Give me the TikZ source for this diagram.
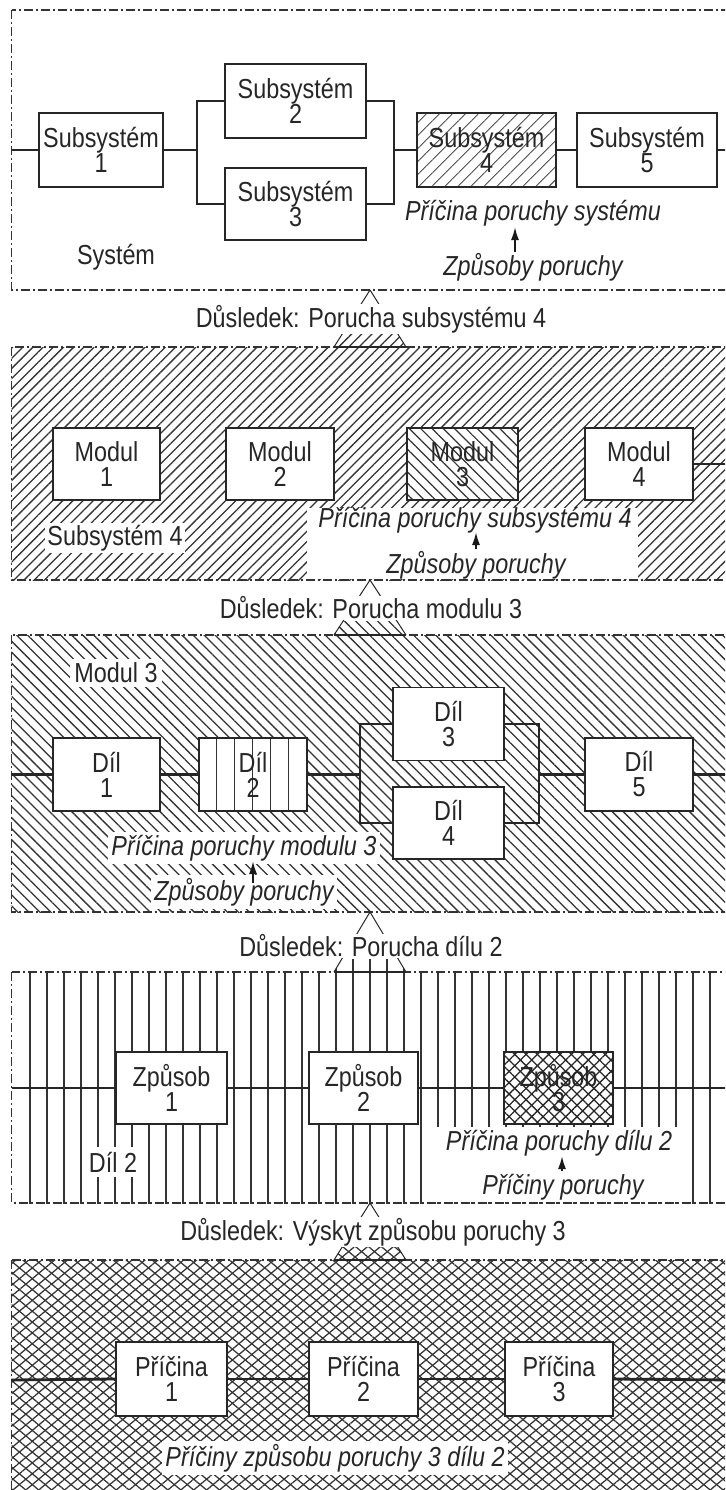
\documentclass[tikz,border=0pt]{standalone}
\usepackage{fontspec}
\setmainfont{Liberation Sans}[FakeStretch=0.85]
\usetikzlibrary{patterns,patterns.meta,arrows.meta,calc}
\newcommand\fs{\fontsize{27.5}{25}\selectfont}
\begin{document}
\begin{tikzpicture}[x=1pt,y=-1pt,
  box/.style={draw=black!85, line width=1.7pt, fill=white, align=center, inner sep=0pt, font=\fs, text=black!85},
  wire/.style={draw=black!85, line width=1.5pt},
  thickwire/.style={draw=black!85, line width=2.8pt},
  thinwire/.style={draw=black!85, line width=1.2pt},
  frame/.style={draw=black!80, line width=1.1pt, dash pattern=on 9pt off 3pt on 2pt off 3pt},
  txt/.style={font=\fs, text=black!85, inner sep=1pt},
  itxt/.style={font=\fs\itshape, text=black!85, inner sep=1pt},
  arr/.style={draw=black!90, -{Latex[length=13pt,width=8pt]}, line width=1.8pt},
  cone/.style={draw=black!85, line width=1pt},
  base/.style={draw=black!85, line width=1.8pt},
  vline/.style={draw=black!80, line width=1.2pt},
  hNE/.style={pattern={Lines[angle=45,distance=7.2pt,line width=1.3pt]}, pattern color=black!80},
  hNW/.style={pattern={Lines[angle=-45,distance=7.8pt,line width=1.3pt]}, pattern color=black!80},
  hX/.style={pattern={Lines[angle=40,distance=8.3pt,line width=1.25pt]}, pattern color=black!80,
     postaction={pattern={Lines[angle=-40,distance=8.3pt,line width=1.25pt]}, pattern color=black!80}},
  bNE/.style={preaction={fill=white}, pattern={Lines[angle=45,distance=9.2pt,line width=0.9pt]}, pattern color=black!70},
  bNW/.style={preaction={fill=white}, pattern={Lines[angle=-45,distance=8pt,line width=1.2pt]}, pattern color=black!80},
  bV/.style={preaction={fill=white}, pattern={Lines[angle=90,distance=18pt,line width=1pt]}, pattern color=black!80},
  bX/.style={preaction={fill=white}, pattern={Lines[angle=45,distance=8pt,line width=1.3pt]}, pattern color=black!85,
     postaction={pattern={Lines[angle=-45,distance=8pt,line width=1.3pt]}, pattern color=black!85}},
]
\useasboundingbox (0,0) rectangle (725,1490);
\clip (0,0) rectangle (725,1490);
\fill[white] (0,0) rectangle (725,1490);

% ================= Panel 1: System =================
\draw[frame] (11.5,10) rectangle (745,290);
\node[box, minimum width=124pt, minimum height=74pt] (s1) at (101,150) {Subsystém\\1};
\node[box, minimum width=141pt, minimum height=74pt] (s2) at (295.5,101) {Subsystém\\2};
\node[box, minimum width=141pt, minimum height=72pt] (s3) at (295.5,204) {Subsystém\\3};
\node[box, bNE, minimum width=139pt, minimum height=74pt] (s4) at (486.5,150) {Subsystém\\4};
\node[box, minimum width=140pt, minimum height=74pt] (s5) at (647,150) {Subsystém\\5};
\coordinate (w1) at (11.5,150);
\coordinate (e1) at (735,150);
\coordinate (bl1) at (197,150);
\coordinate (br1) at (394,150);
\draw[wire] (w1) -- (s1.west);
\draw[wire] (s1.east) -- (bl1);
\draw[wire] (s2.west) -- (bl1 |- s2.west) -- (bl1 |- s3.west) -- (s3.west);
\draw[wire] (s2.east) -- (br1 |- s2.east) -- (br1 |- s3.east) -- (s3.east);
\draw[wire] (br1) -- (s4.west);
\draw[wire] (s4.east) -- (s5.west);
\draw[wire] (s5.east) -- (e1);
\node[txt] (sys) at (116,257) {Systém};
\node[itxt] (p1) at (533,213) {Příčina poruchy systému};
\node[itxt] (z1) at (533,267) {Způsoby poruchy};
\draw[arr] ($(z1.center)+(-18,-15)$) -- ($(p1.center)+(-18,14)$);

% ================= Panel 2: Subsystem 4 =================
\path[hNE] (11.5,347) rectangle (745,580);
\fill[white] (307,508) rectangle (638,579);
\draw[frame] (11.5,347) rectangle (745,580);
\node[box, minimum width=107pt, minimum height=72pt] (m1) at (106.5,464) {Modul\\1};
\node[box, minimum width=108pt, minimum height=72pt] (m2) at (280,464) {Modul\\2};
\node[box, bNW, minimum width=111pt, minimum height=72pt] (m3) at (462.5,464) {Modul\\3};
\node[box, minimum width=108pt, minimum height=72pt] (m4) at (639,464) {Modul\\4};
\coordinate (e2) at (735,464);
\draw[wire] (m4.east) -- (e2);
\node[txt, fill=white, inner sep=2pt] (ss4) at (115,538) {Subsystém 4};
\node[itxt] (p2) at (475,520) {Příčina poruchy subsystému 4};
\node[itxt] (z2) at (476,565) {Způsoby poruchy};
\draw[arr] ($(z2.center)+(0,-16)$) -- ($(p2.center)+(1,12)$);

% ================= Panel 3: Modul 3 =================
\path[hNW] (11.5,635) rectangle (745,912);
\draw[frame] (11.5,635) rectangle (745,912);
\node[box, minimum width=107pt, minimum height=73pt] (d1b) at (106.5,774.5) {Díl\\1};
\node[box, bV, minimum width=108pt, minimum height=73pt] (d2b) at (253,774.5) {Díl\\2};
\node[box, minimum width=111pt, minimum height=73pt] (d3b) at (448.5,724) {Díl\\3};
\node[box, minimum width=111pt, minimum height=72pt] (d4b) at (448.5,823) {Díl\\4};
\node[box, minimum width=108pt, minimum height=73pt] (d5b) at (639,774.5) {Díl\\5};
\coordinate (w3) at (11.5,774.5);
\coordinate (e3) at (735,774.5);
\coordinate (bl3) at (360,774.5);
\coordinate (br3) at (539,774.5);
\draw[thickwire] (w3) -- (d1b.west);
\draw[thickwire] (d1b.east) -- (d2b.west);
\draw[thickwire] (d2b.east) -- (bl3);
\draw[thickwire] (d3b.west) -- (bl3 |- d3b.west) -- (bl3 |- d4b.west) -- (d4b.west);
\draw[thickwire] (d3b.east) -- (br3 |- d3b.east) -- (br3 |- d4b.east) -- (d4b.east);
\draw[thickwire] (br3) -- (d5b.west);
\draw[thickwire] (d5b.east) -- (e3);
\node[txt, fill=white, inner sep=4pt] (m3l) at (116,673) {Modul 3};
\node[itxt, fill=white, inner sep=3pt] (p3) at (244,848) {Příčina poruchy modulu 3};
\node[itxt, fill=white, inner sep=3pt] (z3) at (244,892) {Způsoby poruchy};
\draw[arr] ($(z3.center)+(9,-9)$) -- ($(p3.center)+(9,13)$);

% ================= Panel 4: Dil 2 =================
\begin{scope}
  \clip (11.5,972) rectangle (745,1203);
  \foreach \x in {30,47,...,740} \draw[vline] (\x,960) -- (\x,1210);
\end{scope}
\fill[white] (437,1127) rectangle (684,1202);
\draw[frame] (11.5,972) rectangle (745,1203);
\node[box, minimum width=111pt, minimum height=72pt] (zp1) at (171.5,1088) {Způsob\\1};
\node[box, minimum width=109pt, minimum height=72pt] (zp2) at (363.5,1088) {Způsob\\2};
\node[box, bX, minimum width=109pt, minimum height=72pt] (zp3) at (558.5,1088) {Způsob\\3};
\coordinate (w4) at (11.5,1088);
\coordinate (e4) at (735,1088);
\draw[thinwire] (w4) -- (zp1.west);
\draw[thinwire] (zp1.east) -- (zp2.west);
\draw[thinwire] (zp2.east) -- (zp3.west);
\draw[thinwire] (zp3.east) -- (e4);
\node[txt, fill=white, inner sep=5pt] (d2l) at (113,1162) {Díl 2};
\node[itxt] (p4) at (559,1143) {Příčina poruchy dílu 2};
\node[itxt] (z4) at (563,1187) {Příčiny poruchy};
\draw[arr] ($(z4.center)+(-1,-16)$) -- ($(p4.center)+(3,13)$);

% ================= Panel 5: Způsob 3 =================
\path[hX] (11.5,1260) rectangle (745,1500);
\draw[frame] (11.5,1260) rectangle (745,1500);
\node[box, minimum width=111pt, minimum height=74pt] (pr1) at (171.5,1379) {Příčina\\1};
\node[box, minimum width=109pt, minimum height=74pt] (pr2) at (363.5,1379) {Příčina\\2};
\node[box, minimum width=108pt, minimum height=74pt] (pr3) at (559,1379) {Příčina\\3};
\coordinate (w5) at (11.5,1380);
\coordinate (e5) at (735,1380);
\draw[thickwire] (w5) -- (pr1.west);
\draw[thickwire] (pr1.east) -- (pr2.west);
\draw[thickwire] (pr2.east) -- (pr3.west);
\draw[thickwire] (pr3.east) -- (e5);
\node[itxt, fill=white, inner sep=3pt] (p5) at (335,1458) {Příčiny způsobu poruchy 3 dílu 2};

% ================= Consequence cones =================
% 1
\coordinate (a1) at (370,290); \coordinate (b1l) at (334,347); \coordinate (b1r) at (406,347);
\begin{scope}\clip (0,332) rectangle (725,347);
  \fill[white] (a1) -- (b1l) -- (b1r) -- cycle; \path[hNE] (a1) -- (b1l) -- (b1r) -- cycle;\end{scope}
\draw[cone] (a1) -- (b1l) (a1) -- (b1r);
\draw[base] (b1l) -- (b1r);
\node[txt, fill=white] (c1) at (371,319) {Důsledek: Porucha subsystému 4};
% 2
\coordinate (a2) at (370,580); \coordinate (b2l) at (334,635); \coordinate (b2r) at (406,635);
\begin{scope}\clip (0,621) rectangle (725,635);
  \fill[white] (a2) -- (b2l) -- (b2r) -- cycle; \path[hNW] (a2) -- (b2l) -- (b2r) -- cycle;\end{scope}
\draw[cone] (a2) -- (b2l) (a2) -- (b2r);
\draw[base] (b2l) -- (b2r);
\node[txt, fill=white] (c2) at (371,608) {Důsledek: Porucha modulu 3};
% 3
\coordinate (a3) at (370,912); \coordinate (b3l) at (334,972); \coordinate (b3r) at (406,972);
\begin{scope}\clip (0,959) rectangle (725,972);
  \fill[white] (a3) -- (b3l) -- (b3r) -- cycle;
  \clip (a3) -- (b3l) -- (b3r) -- cycle;
  \foreach \x in {30,47,...,740} \draw[vline] (\x,950) -- (\x,980);
\end{scope}
\draw[cone] (a3) -- (b3l) (a3) -- (b3r);
\draw[base] (b3l) -- (b3r);
\node[txt, fill=white] (c3) at (371,946) {Důsledek: Porucha dílu 2};
% 4
\coordinate (a4) at (370,1203); \coordinate (b4l) at (334,1260); \coordinate (b4r) at (406,1260);
\begin{scope}\clip (0,1245) rectangle (725,1260);
  \fill[white] (a4) -- (b4l) -- (b4r) -- cycle; \path[hX] (a4) -- (b4l) -- (b4r) -- cycle;\end{scope}
\draw[cone] (a4) -- (b4l) (a4) -- (b4r);
\draw[base] (b4l) -- (b4r);
\node[txt, fill=white] (c4) at (373,1232) {Důsledek: Výskyt způsobu poruchy 3};
\end{tikzpicture}
\end{document}
